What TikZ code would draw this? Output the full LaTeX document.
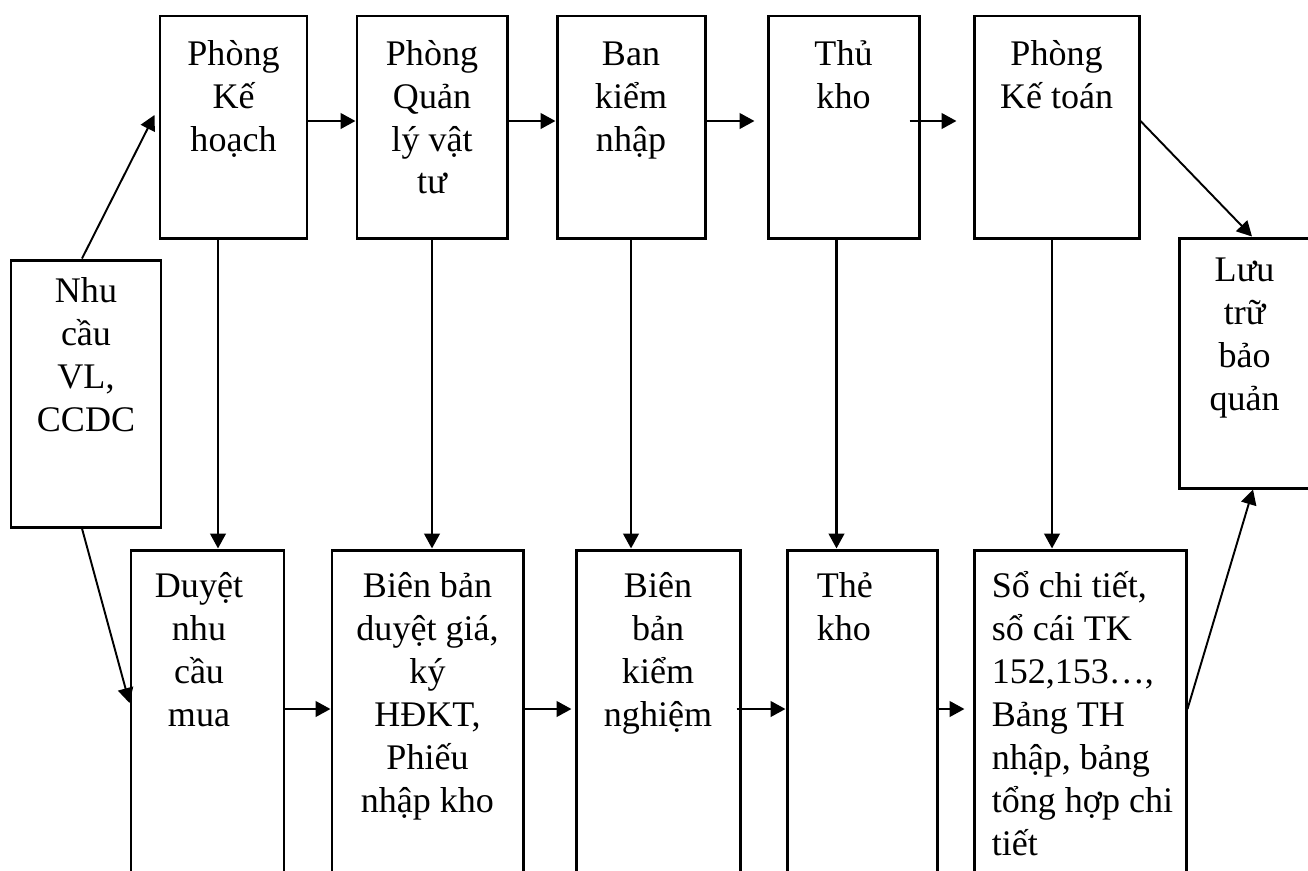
\documentclass[tikz,border=0pt]{standalone}
\usepackage{fontspec}
\setmainfont{Liberation Serif}
\usetikzlibrary{arrows.meta}
\newcommand{\boxfont}{\fontsize{20.5}{24.4}\selectfont}
\newcommand{\topstrut}{\rule{0pt}{21pt}}
\tikzset{
  box/.style={draw, rectangle, line width=1.7pt, inner sep=0pt},
  upbox/.style={box, minimum height=4.44cm},
  lowbox/.style={box, minimum height=7cm},
  txt/.style={font=\boxfont, align=center, anchor=north, inner sep=0pt},
  ltxt/.style={txt, align=left, anchor=north west},
  arr/.style={-{Triangle[length=3mm, width=3.1mm]}, line width=1.6pt},
  darr/.style={-{Triangle[length=3mm, width=3.1mm]}, line width=1.1pt}
}

\begin{document}
\begin{tikzpicture}
\useasboundingbox (0,0) rectangle (26.16,-17.4);
\clip (0,0) rectangle (26.16,-17.4);
\coordinate (rowa) at (0,-2.42);
\coordinate (rowb) at (0,-14.18);
% upper row
\node[upbox, minimum width=2.94cm] (kh) at (4.67,-2.54) {};
\node[upbox, minimum width=3cm] (qlvt) at (8.64,-2.54) {};
\node[upbox, minimum width=2.96cm] (bkn) at (12.62,-2.54) {};
\node[upbox, minimum width=3.02cm] (tk) at (16.87,-2.54) {};
\node[upbox, minimum width=3.3cm] (kt) at (21.13,-2.54) {};
\node[box, minimum width=2.62cm, minimum height=5cm] (lt) at (24.89,-7.26) {};
\node[box, minimum width=3cm, minimum height=5.34cm] (nc) at (1.72,-7.87) {};
\node[txt] (khT) at ([yshift=-2.7mm]kh.north) {\topstrut Phòng\\Kế\\hoạch};
\node[txt] (qlvtT) at ([yshift=-2.7mm]qlvt.north) {\topstrut Phòng\\Quản\\lý vật\\tư};
\node[txt] (bknT) at ([yshift=-2.7mm]bkn.north) {\topstrut Ban\\kiểm\\nhập};
\node[txt] (tkT) at ([yshift=-2.7mm]tk.north) {\topstrut Thủ\\kho};
\node[txt] (ktT) at ([yshift=-2.7mm]kt.north) {\topstrut Phòng\\Kế toán};
\node[txt] (ltT) at ([yshift=-1.6mm]lt.north) {\topstrut Lưu\\trữ\\bảo\\quản};
\node[txt] (ncT) at ([yshift=-1.4mm]nc.north) {\topstrut Nhu\\cầu\\VL,\\CCDC};
% lower row
\node[lowbox, minimum width=3.06cm] (duyet) at (4.15,-14.5) {};
\node[lowbox, minimum width=3.82cm] (bbdg) at (8.55,-14.5) {};
\node[lowbox, minimum width=3.28cm] (bbkn) at (13.16,-14.5) {};
\node[lowbox, minimum width=3cm] (thekho) at (17.24,-14.5) {};
\node[lowbox, minimum width=4.24cm] (so) at (21.6,-14.5) {};
\node[txt] (duyetT) at ([xshift=-1.7mm, yshift=-2.4mm]duyet.north) {\topstrut Duyệt\\nhu\\cầu\\mua};
\node[txt] (bbdgT) at ([yshift=-2.4mm]bbdg.north) {\topstrut Biên bản\\duyệt giá,\\ký\\HĐKT,\\Phiếu\\nhập kho};
\node[txt] (bbknT) at ([yshift=-2.4mm]bbkn.north) {\topstrut Biên\\bản\\kiểm\\nghiệm};
\node[ltxt] (thekhoT) at ([xshift=6.2mm, yshift=-2.4mm]thekho.north west) {\topstrut Thẻ\\kho};
\node[ltxt] (soT) at ([xshift=3.8mm, yshift=-2.4mm]so.north west) {\topstrut Sổ chi tiết,\\sổ cái TK\\152,153…,\\Bảng TH\\nhập, bảng\\tổng hợp chi\\tiết};
% connectors
\draw[arr] (kh.east |- rowa) -- (qlvt.west |- rowa);
\draw[arr] (qlvt.east |- rowa) -- (bkn.west |- rowa);
\draw[arr, shorten >=2.4mm] (bkn.east |- rowa) -- (tk.west |- rowa);
\draw[arr, shorten <=-2.2mm, shorten >=3.2mm] (tk.east |- rowa) -- (kt.west |- rowa);
\draw[arr] (duyet.east |- rowb) -- (bbdg.west |- rowb);
\draw[arr, shorten >=0.6mm] (bbdg.east |- rowb) -- (bbkn.west |- rowb);
\draw[arr, shorten <=-1mm] (bbkn.east |- rowb) -- (thekho.west |- rowb);
\draw[arr, shorten >=1.6mm] (thekho.east |- rowb) -- (so.west |- rowb);
\draw[arr] ([xshift=-3.1mm]kh.south) -- ([xshift=-3.1mm]kh.south |- duyet.north);
\draw[arr] (qlvt.south) -- (qlvt.south |- bbdg.north);
\draw[arr] (bkn.south) -- (bkn.south |- bbkn.north);
\draw[arr] ([xshift=-1.4mm]tk.south) -- ([xshift=-1.4mm]tk.south |- thekho.north);
\draw[arr] ([xshift=-0.9mm]kt.south) -- ([xshift=-0.9mm]kt.south |- so.north);
\draw[darr] ([xshift=-0.8mm]nc.north) -- ([xshift=-0.8mm, yshift=2.4mm]kh.west);
\draw[darr] ([xshift=-0.8mm]nc.south) -- ([yshift=1.2mm]duyet.west |- rowb);
\draw[darr] (kt.east |- rowa) -- ([xshift=1.5mm]lt.north);
\draw[darr] (so.east |- rowb) -- ([xshift=1.7mm]lt.south);
\end{tikzpicture}
\end{document}
